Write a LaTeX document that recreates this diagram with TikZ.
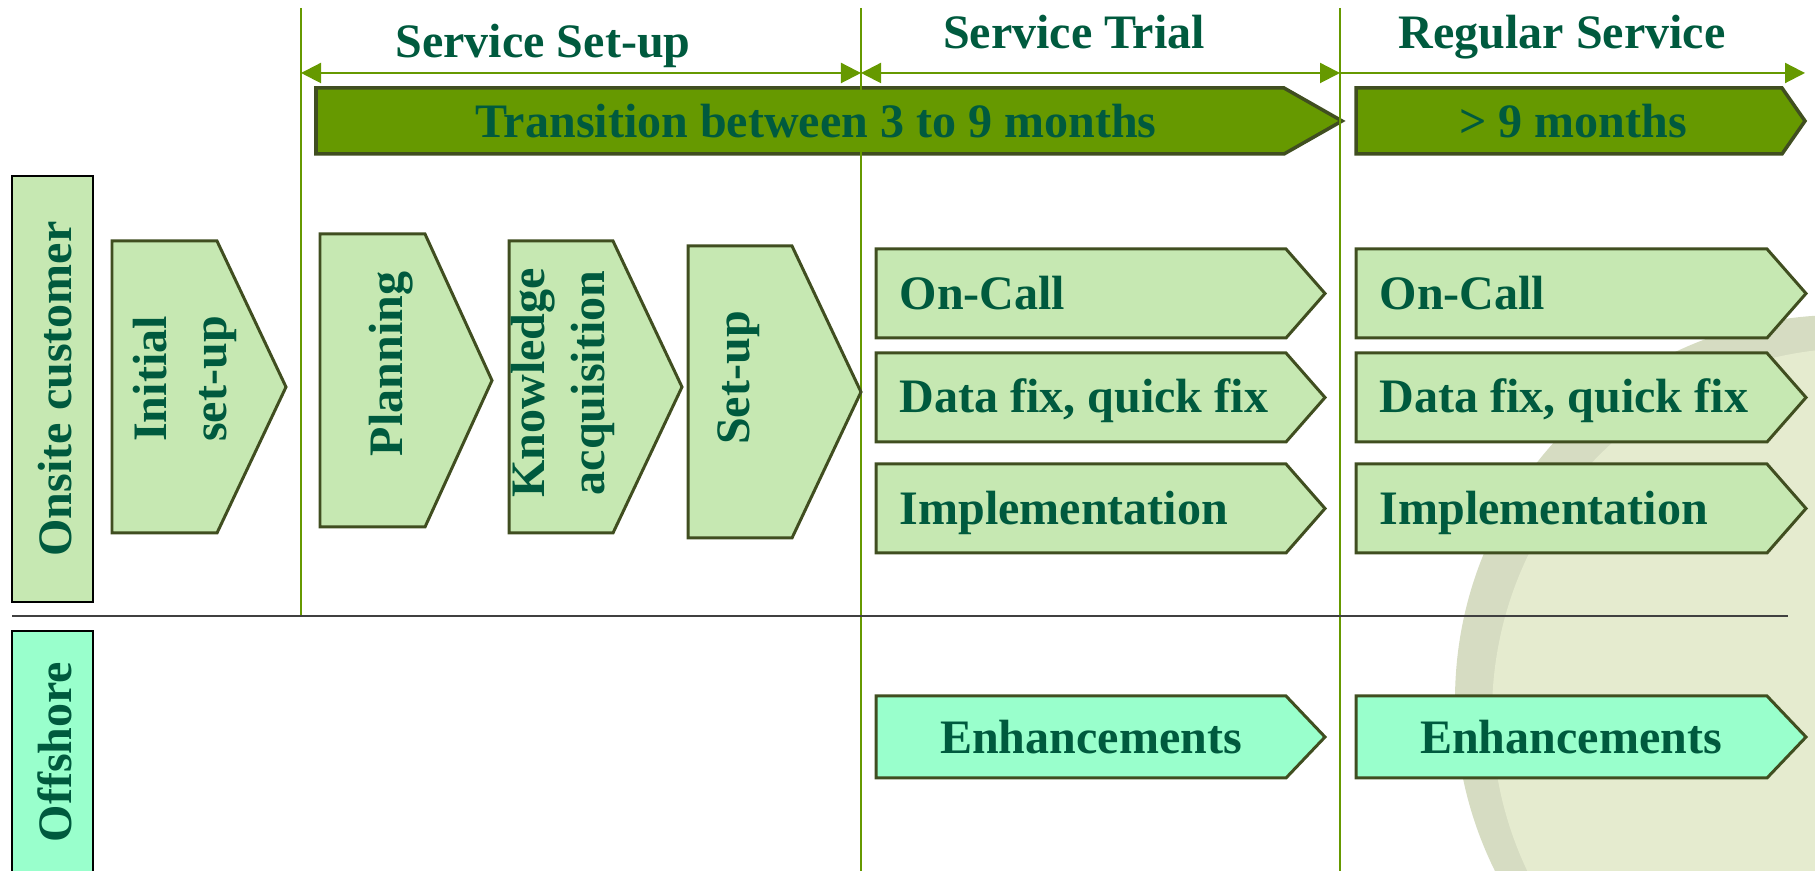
\documentclass[tikz,border=0pt]{standalone}
\usepackage{fontspec}
\setmainfont{Liberation Serif}
\usetikzlibrary{arrows.meta}

\definecolor{textgreen}{RGB}{0,90,62}
\definecolor{boxgreen}{RGB}{198,232,178}
\definecolor{mint}{RGB}{153,255,204}
\definecolor{olive}{RGB}{102,153,0}
\definecolor{rim}{RGB}{64,78,32}
\definecolor{globe}{RGB}{229,235,207}
\definecolor{globeshade}{RGB}{214,220,194}

% pfeil: links, oben, ende, spitze, unten
\newcommand{\pfeil}[6][boxgreen]{%
  \draw[line width=0.85pt,draw=rim,fill=#1] (#2,#3) -- (#4,#3) -- (#5,{(#3+#6)/2}) -- (#4,#6) -- (#2,#6) -- cycle;}

\begin{document}
\begin{tikzpicture}[x=0.01cm,y=-0.01cm,
    every node/.style={font=\fontsize{13.66pt}{17pt}\selectfont\bfseries,text=textgreen,inner sep=0pt},
    linie/.style={olive,line width=0.6pt}]
    \useasboundingbox (0,0) rectangle (1815,871);
    \clip (0,0) rectangle (1815,871);
    % фон
    \fill[globeshade] (1840,700) circle (385);
    \fill[globe] (1858,714) circle (366);
    % полосы
    \draw[line width=1pt,draw=rim,fill=olive] (316,88) -- (1284,88) -- (1342,121) -- (1284,154) -- (316,154) -- cycle;
    \draw[line width=1pt,draw=rim,fill=olive] (1356,88) -- (1782,88) -- (1805,121) -- (1782,154) -- (1356,154) -- cycle;
    % линии
    \coordinate (v1) at (301,8);
    \coordinate (v1e) at (301,616);
    \coordinate (v2) at (861,8);
    \coordinate (v2e) at (861,871);
    \coordinate (v3) at (1340,8);
    \coordinate (v3e) at (1340,871);
    \draw[linie] (v1) -- (v1e);
    \draw[linie] (v2) -- (v2e);
    \draw[linie] (v3) -- (v3e);
    \draw[black!75,line width=0.6pt] (12,616) -- (1788,616);
    \node[anchor=base] (trans) at (816,138) {Transition between 3 to 9 months};
    \node[anchor=base] (lang) at (1573,138) {> 9 months};
    % стрелки
    \coordinate (p1) at (301,73);
    \coordinate (p2) at (861,73);
    \coordinate (p3) at (1340,73);
    \coordinate (p4) at (1805,73);
    \draw[linie,{Triangle[length=0.2cm,width=0.2cm]}-{Triangle[length=0.2cm,width=0.2cm]}] (p1) -- (p2);
    \draw[linie,{Triangle[length=0.2cm,width=0.2cm]}-{Triangle[length=0.2cm,width=0.2cm]}] (p2) -- (p3);
    \draw[linie,-{Triangle[length=0.2cm,width=0.2cm]}] (p3) -- (p4);
    \node[anchor=base] (setupphase) at (543,58) {Service Set-up};
    \node[anchor=base] (trial) at (1074,49) {Service Trial};
    \node[anchor=base] (regular) at (1562,49) {Regular Service};
    % строки
    \draw[line width=0.8pt,fill=boxgreen] (12,176) rectangle (93,602);
    \node[rotate=90] (onsite) at (55,389) {Onsite customer};
    \draw[line width=0.8pt,fill=mint] (12,631) rectangle (93,900);
    \node[rotate=90] (offshore) at (55,752) {Offshore};
    % этапы
    \pfeil{112}{241}{217}{286}{533}
    \node[rotate=90,align=center] (initial) at (185,379) {Initial\\set-up};
    \pfeil{320}{234}{425}{492}{527}
    \node[rotate=90] (planning) at (391,364) {Planning};
    \pfeil{509}{241}{613}{682}{533}
    \node[rotate=90,align=center] (knowledge) at (563,383) {Knowledge\\acquisition};
    \pfeil{688}{246}{792}{861}{538}
    \node[rotate=90] (setup) at (739,378) {Set-up};
    \foreach \l/\r/\t/\s in {876/1286/1325/a,1356/1767/1806/b}{
      \pfeil{\l}{249}{\r}{\t}{338}
      \node[anchor=base west] (oncall\s) at ({\l+23},310) {On-Call};
      \pfeil{\l}{353}{\r}{\t}{442}
      \node[anchor=base west] (datafix\s) at ({\l+23},413) {Data fix, quick fix};
      \pfeil{\l}{464}{\r}{\t}{553}
      \node[anchor=base west] (impl\s) at ({\l+23},525) {Implementation};
      \pfeil[mint]{\l}{696}{\r}{\t}{778}
      \node[anchor=base] (enh\s) at ({\l+215},754) {Enhancements};
    }
\end{tikzpicture}
\end{document}
